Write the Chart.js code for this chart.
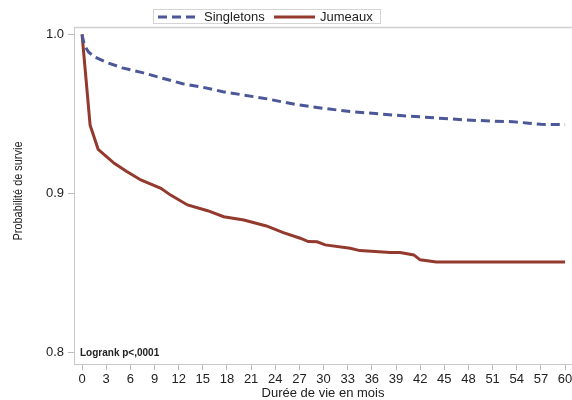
<!DOCTYPE html>
<html>
<head>
<meta charset="utf-8">
<script src="https://cdn.jsdelivr.net/npm/chart.js@4/dist/chart.umd.min.js"></script>
<style>
  html, body { margin: 0; padding: 0; background: #fff; }
  #wrap { width: 572px; height: 400px; }
</style>
</head>
<body>
<div id="wrap"><canvas id="survie"></canvas></div>
<script>
// Kaplan-Meier curves
const singletonMonths = [0, 0.3, 0.8, 1.5, 3, 5, 7.5, 10, 12.5, 15, 17.5, 20, 23, 26.5, 30, 33.5, 37, 40.5, 44, 47.5, 51, 53.5, 55.5, 57, 60];
const singletonSurv = [1.0, 0.993, 0.989, 0.986, 0.9825, 0.979, 0.976, 0.9725, 0.969, 0.9668, 0.964, 0.962, 0.9595, 0.956, 0.9535, 0.9515, 0.950, 0.9487, 0.9475, 0.9463, 0.9455, 0.9452, 0.9442, 0.9435, 0.9433];

const twinMonths = [0, 1, 2, 4, 5.5, 7.3, 9.8, 11, 13.1, 15.6, 17.6, 20.1, 22.9, 25, 27.1, 28.1, 29.2, 30.2, 33.3, 34.5, 38.3, 39.5, 41.2, 42, 44, 60];
const twinSurv = [1.0, 0.943, 0.9278, 0.919, 0.914, 0.9085, 0.9033, 0.899, 0.8928, 0.8892, 0.8854, 0.8833, 0.8796, 0.8754, 0.8719, 0.8698, 0.8696, 0.8677, 0.8656, 0.8641, 0.8629, 0.8629, 0.8614, 0.8583, 0.8569, 0.8569];

const xTicks = [0, 3, 6, 9, 12, 15, 18, 21, 24, 27, 30, 33, 36, 39, 42, 45, 48, 51, 54, 57, 60];
const yTicks = [0.8, 0.9, 1.0];

const seriesNames = ['Singletons', 'Jumeaux'];
const yTitle = 'Probabilité de survie';
const note = 'Logrank p<,0001';
const blue = '#4b5797';
const red = '#93392d';
const font = '"Liberation Sans", Arial, sans-serif';

function toPoints(xs, ys) {
    return xs.map((x, i) => ({ x: x, y: ys[i] }));
}

// top frame line, legend box, narrow y title and logrank note
const extras = {
    id: 'extras',
    afterDraw(chart) {
        const ctx = chart.ctx;
        const a = chart.chartArea;
        ctx.save();
        ctx.strokeStyle = '#d0d0d0';
        ctx.lineWidth = 1.5;
        ctx.beginPath();
        ctx.moveTo(a.left, a.top + 0.5);
        ctx.lineTo(chart.width, a.top + 0.5);
        ctx.stroke();

        // legend
        ctx.lineWidth = 1;
        ctx.strokeStyle = '#d4d4d4';
        ctx.strokeRect(153.5, 9.5, 227, 14);
        ctx.lineWidth = 3;
        ctx.setLineDash([9, 5]);
        ctx.strokeStyle = blue;
        ctx.beginPath(); ctx.moveTo(158, 17); ctx.lineTo(196, 17); ctx.stroke();
        ctx.setLineDash([]);
        ctx.strokeStyle = red;
        ctx.beginPath(); ctx.moveTo(274, 17); ctx.lineTo(315, 17); ctx.stroke();
        ctx.fillStyle = '#222';
        ctx.font = '13px ' + font;
        ctx.textBaseline = 'middle';
        ctx.fillText(seriesNames[0], 204, 17);
        ctx.fillText(seriesNames[1], 320, 17);

        ctx.font = 'bold 10px ' + font;
        ctx.fillText(note, 80, 353);

        // condensed axis title
        ctx.translate(18, 191);
        ctx.rotate(-Math.PI / 2);
        ctx.scale(0.84, 1);
        ctx.textAlign = 'center';
        ctx.font = '13px ' + font;
        ctx.fillText(yTitle, 0, 0);
        ctx.restore();
    }
};

new Chart(document.getElementById('survie'), {
    type: 'line',
    data: {
        datasets: [{
            label: seriesNames[0],
            data: toPoints(singletonMonths, singletonSurv),
            borderColor: blue,
            borderWidth: 3,
            borderDash: [9, 5],
            pointRadius: 0,
            tension: 0
        }, {
            label: seriesNames[1],
            data: toPoints(twinMonths, twinSurv),
            borderColor: red,
            borderWidth: 3,
            pointRadius: 0,
            tension: 0
        }]
    },
    options: {
        responsive: true,
        maintainAspectRatio: false,
        animation: false,
        layout: { padding: { top: 27, right: 0, left: 0, bottom: 0 } },
        plugins: {
            legend: { display: false },
            tooltip: { enabled: false }
        },
        scales: {
            x: {
                type: 'linear',
                min: -1,
                max: 60.86,
                afterBuildTicks: (scale) => { scale.ticks = xTicks.map(v => ({ value: v })); },
                afterFit: (scale) => { scale.height = 36; scale.paddingRight = 0; },
                grid: { drawOnChartArea: false, drawTicks: true, tickLength: 6, color: '#bbb' },
                border: { display: true, color: '#c8c8c8' },
                ticks: { color: '#222', font: { family: font, size: 13 }, padding: 2, maxRotation: 0, autoSkip: false },
                title: { display: true, text: 'Durée de vie en mois', color: '#222', font: { family: font, size: 13, lineHeight: 1.0 }, padding: { top: 0, bottom: 0 } }
            },
            y: {
                min: 0.7928,
                max: 1.0047,
                afterBuildTicks: (scale) => { scale.ticks = yTicks.map(v => ({ value: v })); },
                afterFit: (scale) => { scale.width = 74; },
                grid: { drawOnChartArea: false, drawTicks: true, tickLength: 6, color: '#bbb' },
                border: { display: true, color: '#c8c8c8' },
                ticks: { color: '#222', font: { family: font, size: 13 }, padding: 4, callback: (v) => v.toFixed(1) },
                title: { display: false }
            }
        }
    },
    plugins: [extras]
});
</script>
</body>
</html>
